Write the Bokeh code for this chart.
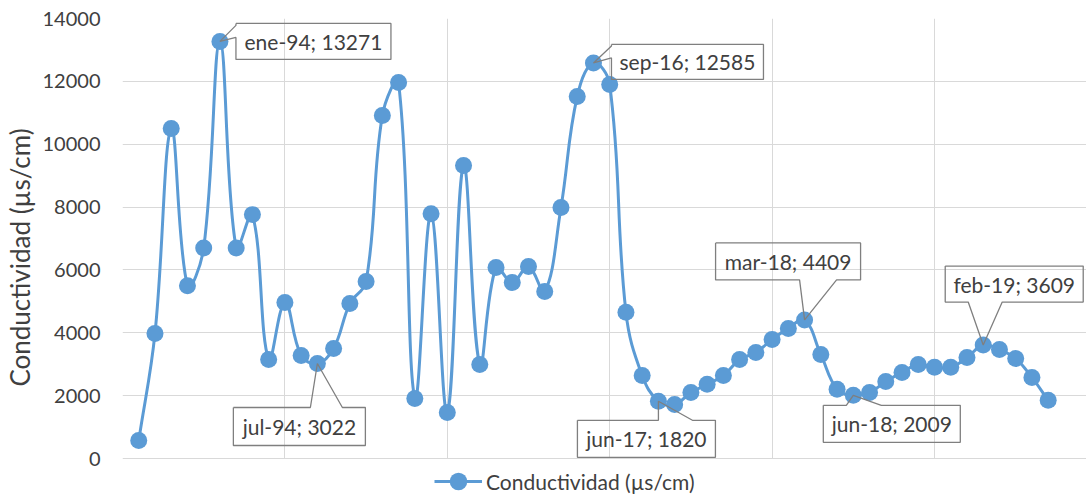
import numpy as np
from bokeh.plotting import figure
from bokeh.models import Legend, LegendItem, Range1d, FixedTicker, BoxAnnotation
from bokeh.embed import file_html
from bokeh.resources import INLINE
from bokeh.core.properties import value

# ---------------- data ----------------
series_name = "Conductividad (µs/cm)"
conductividad = [570, 3980, 10500, 5500, 6700, 13271, 6700, 7760, 3150, 4960,
                 3280, 3022, 3500, 4930, 5630, 10910, 11960, 1910, 7790, 1460,
                 9320, 2990, 6080, 5600, 6110, 5310, 7990, 11520, 12585, 11900,
                 4650, 2640, 1820, 1720, 2100, 2360, 2640, 3150, 3370, 3790,
                 4140, 4409, 3310, 2200, 2009, 2100, 2450, 2740, 2990, 2900,
                 2900, 3210, 3609, 3470, 3180, 2580, 1850]
y_ticks = [0, 2000, 4000, 6000, 8000, 10000, 12000, 14000]
x_grid = [0, 10, 20, 30, 40, 50, 60]
callout_names = ["ene-94", "jul-94", "sep-16", "jun-17", "mar-18", "jun-18", "feb-19"]
callout_index = [6, 12, 29, 33, 42, 45, 53]

# ---------------- layout (pixels) ----------------
BORDER_LEFT = 117
FRAME_W = 1081 - BORDER_LEFT
PX_PER_X = 16.24                # one category step
PX_PER_Y = 440 / 14000          # 0..14000 spans 440 px
EXTRA_BOTTOM = 38               # frame continues below 0 to hold the legend
FRAME_H = 440 + EXTRA_BOTTOM
X_END = FRAME_W / PX_PER_X
Y_TOP = 14000
Y_BOTTOM = -EXTRA_BOTTOM / PX_PER_Y
sx = PX_PER_X
sy = PX_PER_Y
# box relative to point: L, R, T, B (px, y down), wedge side, w1, w2
callout_layout = [
    (16, 171, -18, 18, "left", -16, -4),
    (-84, 48, 44, 82, "top", -7, 25),
    (18, 170, -18.5, 16.5, "left", -17, -5),
    (-81, 57, 19, 56, "top", 0, 34),
    (-89, 56, -77, -40, "bottom", -5, 32),
    (-30, 107, 10, 47, "top", -7, 28),
    (-38, 100, -79, -43, "bottom", -15, 19),
]

BLUE = "#5b9bd5"
GRID = "#d9d9d9"
TXT = "#404040"
FONT = "Lato"

x = np.arange(1, len(conductividad) + 1, dtype=float)
y = np.array(conductividad, dtype=float)

p = figure(frame_width=FRAME_W, frame_height=FRAME_H,
           x_range=Range1d(0, X_END), y_range=Range1d(Y_BOTTOM, Y_TOP),
           output_backend="svg", toolbar_location=None,
           min_border_left=BORDER_LEFT, min_border_right=0, min_border_top=18,
           min_border_bottom=0, background_fill_color="white",
           border_fill_color="white", outline_line_color=None)

p.xaxis.visible = False
p.xgrid.ticker = FixedTicker(ticks=x_grid)
p.xgrid.grid_line_color = GRID
p.xgrid.grid_line_width = 1
p.yaxis.ticker = FixedTicker(ticks=y_ticks)
p.ygrid.grid_line_color = GRID
p.ygrid.grid_line_width = 1
ax = p.yaxis[0]
ax.axis_line_color = None
ax.major_tick_line_color = None
ax.minor_tick_line_color = None
ax.major_tick_out = 0
ax.major_tick_in = 0
ax.major_label_standoff = 22
ax.major_label_text_font = FONT
ax.major_label_text_font_size = "20px"
ax.major_label_text_color = TXT
ax.axis_label = series_name
ax.axis_label_text_font = FONT
ax.axis_label_text_font_size = "26px"
ax.axis_label_text_font_style = "normal"
ax.axis_label_text_color = TXT
ax.axis_label_standoff = 4

# white band below the zero line (hides vertical grid lines under the axis)
mask = BoxAnnotation(top=-0.6 / PX_PER_Y, fill_color="white", fill_alpha=1,
                     line_color=None, level="underlay")
p.add_layout(mask)

# smoothed line: Bezier segments through the data points (screen-space tangents)
X = x * sx
Y = y * sy
n = len(x)
c_before_x = np.zeros(n); c_before_y = np.zeros(n)
c_after_x = np.zeros(n); c_after_y = np.zeros(n)
T = 0.4
for i in range(n):
    ip = max(i - 1, 0); inx = min(i + 1, n - 1)
    d0 = np.hypot(X[i] - X[ip], Y[i] - Y[ip])
    d1 = np.hypot(X[inx] - X[i], Y[inx] - Y[i])
    tot = d0 + d1 if d0 + d1 > 0 else 1.0
    fa = T * d0 / tot
    fb = T * d1 / tot
    tx_ = X[inx] - X[ip]; ty_ = Y[inx] - Y[ip]
    c_before_x[i] = X[i] - fa * tx_; c_before_y[i] = Y[i] - fa * ty_
    c_after_x[i] = X[i] + fb * tx_; c_after_y[i] = Y[i] + fb * ty_
line_r = p.bezier(x0=x[:-1], y0=y[:-1], x1=x[1:], y1=y[1:],
                  cx0=c_after_x[:-1] / sx, cy0=c_after_y[:-1] / sy,
                  cx1=c_before_x[1:] / sx, cy1=c_before_y[1:] / sy,
                  line_color=BLUE, line_width=3)
pts_r = p.scatter(x, y, size=17, fill_color=BLUE, line_color=BLUE, line_width=0)

# callouts
xs_list, ys_list, tx, ty, texts = [], [], [], [], []
for name, idx, lay in zip(callout_names, callout_index, callout_layout):
    L, R, Tp, B, side, w1, w2 = lay
    px, py = float(idx), float(conductividad[idx - 1])
    if side == "left":
        pts = [(L, Tp), (R, Tp), (R, B), (L, B), (L, w2), (0, 0), (L, w1)]
    elif side == "top":
        pts = [(L, Tp), (w1, Tp), (0, 0), (w2, Tp), (R, Tp), (R, B), (L, B)]
    else:
        pts = [(L, Tp), (R, Tp), (R, B), (w2, B), (0, 0), (w1, B), (L, B)]
    pts.append(pts[0])
    xs_list.append([px + dx / sx for dx, dy in pts])
    ys_list.append([py - dy / sy for dx, dy in pts])
    tx.append(px + (L + R) / 2 / sx)
    ty.append(py - (Tp + B) / 2 / sy)
    texts.append(f"{name}; {conductividad[idx - 1]}")

p.multi_line(xs=xs_list, ys=ys_list, line_color="#7f7f7f", line_width=1.3)
p.text(x=tx, y=ty, text=texts, text_font=value(FONT), text_font_size="21px",
       text_color=TXT, text_align="center", text_baseline="middle")

legend = Legend(items=[LegendItem(label=series_name, renderers=[line_r, pts_r])],
                location=(437 - 8 - BORDER_LEFT, -7),
                orientation="horizontal",
                glyph_width=48, glyph_height=44, padding=0, margin=0, spacing=0,
                label_standoff=4, border_line_color=None, background_fill_alpha=0,
                label_text_font=FONT, label_text_font_size="21px",
                label_text_color=TXT)
p.add_layout(legend, "center")

open("out.html", "w").write(file_html(p, INLINE))
